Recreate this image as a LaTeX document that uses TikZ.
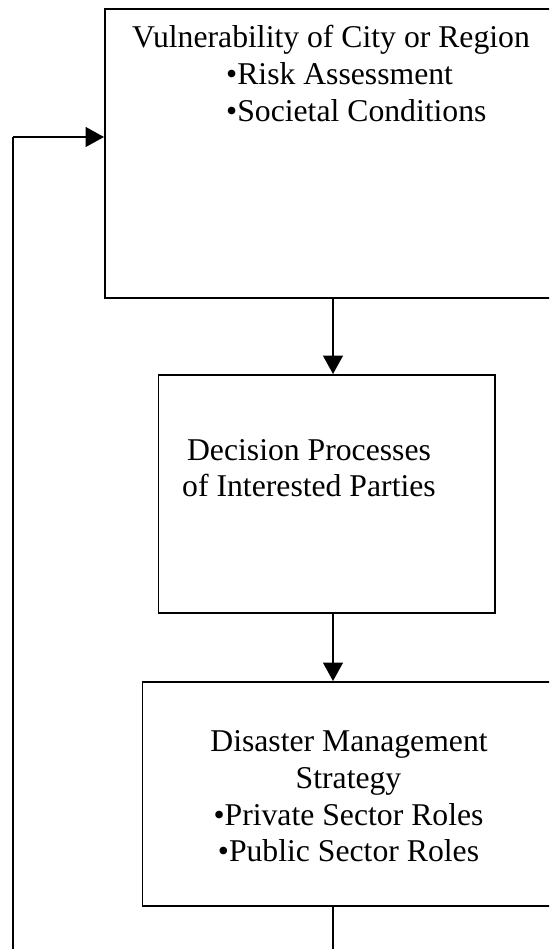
\documentclass[tikz,border=0pt]{standalone}
\usepackage{fontspec}
\setmainfont{Liberation Serif}
\usetikzlibrary{arrows.meta}
\begin{document}
\begin{tikzpicture}[x=1pt,y=-1pt,
  box/.style={draw=black,line width=1.5pt,rectangle,inner sep=0pt,anchor=north west},
  txt/.style={inner sep=0pt,font=\fontsize{31.7}{37}\selectfont},
  conn/.style={line width=1.5pt},
  arr/.style={line width=1.5pt,-{Triangle[length=18.5pt,width=20pt]}}]
\useasboundingbox (0,0) rectangle (549,949);
\clip (0,0) rectangle (549,949);
% boxes
\node[box,minimum width=460pt,minimum height=288.5pt] (v) at (104,8.5) {};
\node[box,minimum width=336.5pt,minimum height=238pt] (d) at (157.5,374) {};
\node[box,minimum width=420pt,minimum height=224pt] (s) at (141.5,681) {};
% texts
\node[txt,anchor=base] (v1) at (331,48) {Vulnerability of City or Region};
\node[txt,anchor=base west] (v2) at (226,85) {•Risk Assessment};
\node[txt,anchor=base west] (v3) at (226,122) {•Societal Conditions};
\node[txt,anchor=base] (d1) at (309,460.5) {Decision Processes};
\node[txt,anchor=base] (d2) at (309,496.5) {of Interested Parties};
\node[txt,anchor=base] (s1) at (349,751.5) {Disaster Management};
\node[txt,anchor=base] (s2) at (348.5,788) {Strategy};
\node[txt,anchor=base] (s3) at (348.5,825) {•Private Sector Roles};
\node[txt,anchor=base] (s4) at (348.5,861.5) {•Public Sector Roles};
% connectors
\coordinate (cx) at (333,0);
\coordinate (fb1) at (333,970);
\coordinate (fb2) at (13,970);
\coordinate (fin) at (13,137);
\draw[arr] (v.south -| cx) -- (d.north -| cx);
\draw[arr] (d.south -| cx) -- (s.north -| cx);
\draw[conn] (s.south -| cx) -- (fb1) -- (fb2) -- (fin);
\draw[arr] (fin) -- (fin -| v.west);
\end{tikzpicture}
\end{document}
